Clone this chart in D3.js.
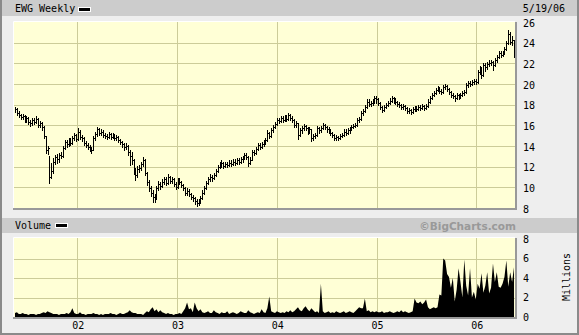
<!DOCTYPE html>
<html><head><meta charset="utf-8">
<script src="https://cdn.jsdelivr.net/npm/d3@7"></script>
<style>body{margin:0;background:#eeeeee}svg{display:block}</style>
</head><body>
<svg id="c" width="579" height="335"></svg>
<script>
const symbolTitle = "EWG Weekly";
const lastDateLabel = "5/19/06";
const startDate = "2001-05-18";
const closes = [17.6,17.2,17.0,16.8,16.9,16.5,16.7,16.3,16.2,16.5,
16.3,16.6,16.0,16.2,15.8,15.0,13.6,13.8,11.0,11.6,
12.5,12.9,12.7,13.1,13.0,13.8,14.4,14.2,14.6,14.3,
14.8,15.1,14.7,15.4,14.9,14.8,14.3,14.1,13.9,13.7,
13.6,14.8,15.2,15.6,15.3,15.4,15.1,15.0,14.9,15.2,
14.9,15.1,14.8,14.9,14.6,14.4,14.2,13.9,14.0,13.4,
13.0,12.6,11.6,11.2,11.8,11.9,12.3,12.6,11.4,10.5,
9.9,9.5,9.1,8.9,9.9,10.3,10.1,10.5,10.8,10.4,
11.0,10.6,10.8,10.3,10.0,10.7,10.5,10.2,9.9,9.5,
9.6,9.4,9.1,9.0,8.7,8.5,8.6,9.0,9.5,9.9,
10.4,10.8,11.0,10.9,11.2,11.6,12.0,12.2,12.4,12.1,
12.3,12.2,12.4,12.3,12.5,12.4,12.6,12.5,12.7,12.8,
13.1,12.9,12.4,12.6,13.4,13.3,13.7,14.1,13.9,14.2,
14.4,14.6,15.3,15.0,15.5,15.8,16.1,16.5,16.4,16.7,
16.5,16.8,16.6,17.0,16.7,16.5,16.0,16.2,15.1,15.5,
15.7,15.9,15.7,15.5,15.6,14.8,15.0,15.1,15.7,15.5,
15.7,16.0,15.8,15.6,15.5,15.3,15.1,14.8,14.9,14.8,
15.0,15.1,15.4,15.3,15.5,15.6,15.8,15.9,16.0,16.5,
16.6,17.2,17.4,17.8,18.3,18.1,18.2,18.3,18.6,18.5,
18.2,17.8,17.5,17.8,18.0,18.2,18.4,18.6,18.4,18.3,
18.1,18.0,17.8,17.9,17.7,17.4,17.5,17.3,17.6,17.7,
17.6,17.8,17.7,17.9,17.7,17.9,18.3,18.6,18.9,19.1,
19.4,19.6,19.3,19.2,19.7,19.8,19.5,19.2,18.9,18.8,
18.6,18.9,18.7,18.9,19.1,19.2,19.9,20.1,20.0,20.2,
20.3,20.2,21.2,21.5,20.9,21.8,21.6,21.9,22.0,22.1,
21.8,22.3,22.6,23.0,22.8,23.0,23.4,24.0,24.8,24.1,
24.3,22.9];
const highs = [17.8,17.7,17.4,17.1,17.1,17.0,16.9,16.8,16.5,16.7,
16.7,16.9,16.7,16.4,16.3,15.9,15.0,14.0,13.0,12.4,
12.8,13.1,13.2,13.3,13.4,14.0,14.6,14.6,14.8,14.8,
15.0,15.3,15.2,15.7,15.5,15.1,14.9,14.5,14.3,14.1,
13.9,15.0,15.4,15.8,15.7,15.6,15.5,15.3,15.2,15.4,
15.3,15.3,15.2,15.1,15.0,14.7,14.5,14.3,14.3,14.1,
13.6,13.4,12.7,11.9,12.1,12.2,12.5,12.9,12.7,11.5,
10.7,10.1,9.7,9.4,10.1,10.6,10.5,10.8,11.0,11.0,
11.3,11.1,11.0,10.9,10.5,10.9,10.9,10.6,10.3,10.0,
9.9,9.8,9.5,9.3,9.1,8.9,8.9,9.2,9.7,10.1,
10.6,11.0,11.3,11.2,11.4,11.8,12.2,12.5,12.6,12.5,
12.5,12.5,12.6,12.6,12.7,12.7,12.8,12.8,12.9,13.0,
13.3,13.3,13.0,12.9,13.6,13.6,13.9,14.3,14.3,14.4,
14.6,14.8,15.5,15.4,15.7,16.0,16.3,16.7,16.7,16.9,
16.9,17.0,17.0,17.2,17.1,16.9,16.6,16.4,16.2,15.7,
15.9,16.1,16.0,15.8,15.8,15.6,15.2,15.3,15.9,15.8,
15.9,16.2,16.1,15.9,15.8,15.6,15.4,15.2,15.1,15.0,
15.2,15.3,15.6,15.6,15.7,15.8,16.0,16.1,16.2,16.7,
16.8,17.4,17.6,18.0,18.5,18.5,18.4,18.5,18.8,18.8,
18.6,18.3,17.9,18.0,18.2,18.4,18.6,18.8,18.7,18.6,
18.4,18.3,18.1,18.1,18.0,17.8,17.7,17.6,17.8,17.9,
17.9,18.0,18.0,18.1,18.0,18.1,18.5,18.8,19.1,19.3,
19.6,19.8,19.7,19.5,19.9,20.0,19.9,19.6,19.3,19.1,
18.9,19.1,19.0,19.1,19.3,19.4,20.1,20.3,20.3,20.4,
20.5,20.5,21.4,21.7,21.6,22.0,22.0,22.1,22.3,22.3,
22.2,22.5,22.8,23.2,23.2,23.2,23.6,24.2,25.2,25.0,
24.6,24.2];
const lows = [17.3,17.0,16.8,16.6,16.6,16.3,16.3,16.1,15.9,16.0,
16.1,16.2,15.8,15.8,15.5,14.8,13.3,13.2,10.4,10.9,
11.4,12.3,12.4,12.5,12.8,12.9,13.7,13.9,14.0,14.1,
14.2,14.6,14.5,14.6,14.7,14.5,14.1,13.9,13.7,13.5,
13.3,13.6,14.6,15.0,15.1,15.1,14.9,14.8,14.7,14.8,
14.7,14.8,14.6,14.6,14.4,14.2,13.9,13.6,13.7,13.1,
12.2,12.3,11.3,10.7,11.0,11.5,11.7,12.1,11.2,10.2,
9.6,9.2,8.6,8.6,8.9,9.7,9.8,10.0,10.3,10.2,
10.3,10.4,10.4,10.1,9.8,9.9,10.3,10.0,9.7,9.3,
9.3,9.2,8.9,8.7,8.4,8.2,8.3,8.5,8.9,9.4,
9.8,10.3,10.6,10.6,10.8,11.1,11.5,11.9,12.0,11.9,
12.0,12.0,12.1,12.1,12.2,12.2,12.3,12.3,12.4,12.5,
12.7,12.7,12.1,12.3,12.6,13.1,13.2,13.6,13.7,13.8,
14.0,14.2,14.5,14.8,14.9,15.4,15.7,16.0,16.2,16.3,
16.3,16.4,16.4,16.5,16.5,16.3,15.8,15.8,14.7,15.0,
15.3,15.5,15.5,15.2,15.3,14.5,14.6,14.8,15.0,15.3,
15.4,15.6,15.6,15.4,15.3,15.1,14.9,14.6,14.6,14.6,
14.7,14.9,15.0,15.1,15.2,15.3,15.5,15.7,15.8,15.9,
16.3,16.5,17.0,17.3,17.7,17.9,17.9,18.0,18.2,18.2,
18.0,17.6,17.3,17.4,17.7,17.9,18.1,18.3,18.2,18.1,
17.9,17.8,17.6,17.6,17.5,17.2,17.2,17.1,17.2,17.4,
17.4,17.5,17.5,17.6,17.5,17.6,17.8,18.2,18.5,18.8,
19.0,19.3,19.1,19.0,19.1,19.5,19.3,19.0,18.7,18.6,
18.4,18.5,18.5,18.6,18.8,18.9,19.1,19.7,19.8,19.9,
20.0,20.0,20.1,21.0,20.6,20.8,21.3,21.5,21.7,21.8,
21.4,21.7,22.1,22.5,22.6,22.7,22.9,23.3,23.9,23.9,
23.8,22.6];
const volumes = [0.4,0.5,0.3,0.3,0.4,0.3,0.3,0.2,0.3,0.3,
0.3,0.2,0.3,0.3,0.4,0.5,0.4,0.6,0.5,0.4,
0.3,0.3,0.3,0.2,0.3,0.3,0.3,0.4,0.3,0.5,
0.9,0.4,0.3,0.3,0.5,0.3,0.3,0.2,0.3,0.3,
0.3,0.4,0.3,0.3,0.2,0.3,0.2,0.3,0.3,0.3,
0.4,0.3,0.3,0.2,0.3,0.4,0.3,0.3,0.4,0.5,
0.7,0.5,0.4,0.4,0.3,0.3,0.3,0.2,0.4,0.6,
0.5,0.8,1.0,0.6,0.8,0.5,0.7,0.5,0.4,0.3,
0.4,0.3,0.3,0.2,0.3,0.3,0.4,0.3,0.6,0.9,
1.5,0.8,0.9,0.5,1.5,0.9,0.6,0.8,0.5,0.4,
0.5,0.6,0.4,0.4,0.7,0.5,0.4,0.3,0.5,0.4,
0.4,0.6,0.3,0.4,0.5,0.4,0.3,0.4,0.6,0.5,
0.4,0.4,0.7,0.5,0.4,0.3,0.4,0.5,0.4,0.8,
0.5,0.4,0.9,2.1,0.6,0.5,0.4,0.6,0.5,0.4,
0.5,0.4,0.6,0.5,0.7,0.5,0.6,0.8,1.0,0.7,
0.6,0.9,1.1,0.8,0.6,0.9,0.7,0.5,0.6,0.4,
3.4,0.6,0.4,0.5,0.6,0.4,0.5,0.4,0.6,0.5,
0.4,0.5,0.6,0.4,0.5,0.6,0.5,0.4,0.6,0.8,
1.0,0.9,0.9,1.9,0.6,0.7,0.5,0.6,0.5,0.6,
0.5,0.5,0.6,0.4,0.5,0.5,0.6,0.5,0.4,0.5,
0.6,0.5,0.7,0.5,0.6,0.5,0.4,0.5,0.6,1.9,
1.5,1.4,1.6,1.3,1.5,1.8,1.0,0.8,0.9,1.0,
0.9,1.0,2.3,2.2,6.0,5.8,4.4,4.1,3.0,4.0,
1.6,2.8,5.0,3.6,2.0,5.9,3.2,2.2,5.0,2.0,
2.6,1.8,3.4,2.9,4.5,2.5,3.2,4.6,2.4,3.0,
5.5,3.6,4.6,3.1,3.0,3.4,4.1,5.8,3.1,4.6,
3.6,5.1];
const priceTicks = [8,10,12,14,16,18,20,22,24,26];
const volumeTicks = [0,2,4,6,8];
const yearTicks = ["2002-01-01","2003-01-01","2004-01-01","2005-01-01","2006-01-01"];
const yearLabels = ["02","03","04","05","06"];

const svg = d3.select("#c");
const W = 579, H = 335;
const mono = "'DejaVu Sans Mono', monospace";
const P = {l:14, r:515, t:22, b:208};
const V = {t:239, b:317};

const parse = d3.timeParse("%Y-%m-%d");
const d0 = parse(startDate);
const dates = closes.map((_, i) => d3.timeDay.offset(d0, 7*i));
const x = d3.scaleTime().domain([d0, dates[dates.length-1]]).range([P.l+1, P.r-1]);
const y = d3.scaleLinear().domain([8,26]).range([P.b, P.t]);
const yv = d3.scaleLinear().domain([0,8]).range([V.b, V.t]);
const years = yearTicks.map(parse);

// header bars
svg.append("rect").attr("x",0).attr("y",0).attr("width",W).attr("height",16).attr("fill","#cccccc");
svg.append("rect").attr("x",0).attr("y",218).attr("width",W).attr("height",15).attr("fill","#cccccc");

svg.append("text").attr("x",15).attr("y",12).attr("font-family",mono).attr("font-size",10).text(symbolTitle);
svg.append("rect").attr("x",78.5).attr("y",7.5).attr("width",12).attr("height",4).attr("fill","#000").attr("stroke","#fff");
svg.append("text").attr("x",565).attr("y",12).attr("text-anchor","end").attr("font-family",mono).attr("font-size",10).text(lastDateLabel);
svg.append("text").attr("x",15).attr("y",229).attr("font-family",mono).attr("font-size",10).text("Volume");
svg.append("rect").attr("x",55.5).attr("y",223.5).attr("width",12).attr("height",4).attr("fill","#000").attr("stroke","#fff");
svg.append("text").attr("x",516).attr("y",230).attr("text-anchor","end").attr("font-family","'DejaVu Sans', sans-serif").attr("font-weight","bold").attr("font-size",10.5).attr("fill","#999").text("\u00A9BigCharts.com");

function panel(top, bottom, yScale, gridVals) {
  const g = svg.append("g");
  g.append("rect").attr("x",P.l).attr("y",top).attr("width",P.r-P.l).attr("height",bottom-top).attr("fill","#ffffd6");
  g.selectAll("line.h").data(gridVals).enter().append("line")
    .attr("x1",P.l).attr("x2",P.r).attr("y1",d=>Math.round(yScale(d))+0.5).attr("y2",d=>Math.round(yScale(d))+0.5)
    .attr("stroke","#cccc99");
  g.selectAll("line.v").data(years).enter().append("line")
    .attr("y1",top).attr("y2",bottom).attr("x1",d=>Math.round(x(d))+0.5).attr("x2",d=>Math.round(x(d))+0.5)
    .attr("stroke","#cccc99");
  return g;
}
function frame(top, bottom) {
  svg.append("path").attr("d",`M${P.l-0.5},${bottom}V${top-0.5}H${P.r}`).attr("fill","none").attr("stroke","#fff");
  svg.append("path").attr("d",`M${P.l-1},${bottom+1}H${P.r+1}V${top}`).attr("fill","none").attr("stroke","#999").attr("stroke-width",2);
}

panel(P.t, P.b, y, priceTicks.filter(v=>v>8 && v<26));
panel(V.t-1, V.b, yv, volumeTicks.filter(v=>v>0 && v<8));

// price bars
const px = i => Math.round(x(dates[i])) + 0.5;
let d = "";
closes.forEach((c, i) => {
  const xi = px(i);
  const yh = Math.round(y(highs[i])), yl = Math.round(y(lows[i]));
  d += `M${xi},${yh}V${yl+1}`;
  const yc = Math.round(y(c)) + 0.5;
  d += `M${xi},${yc}H${xi+1.5}`;
  if (i > 0) { const yo = Math.round(y(closes[i-1])) + 0.5; d += `M${xi-1.5},${yo}H${xi}`; }
});
svg.append("path").attr("d",d).attr("stroke","#000").attr("stroke-width",1).attr("fill","none").attr("shape-rendering","crispEdges");

// volume area
const area = d3.area().x((v,i)=>x(dates[i])).y0(yv(0)).y1(v=>yv(v));
svg.append("path").datum(volumes).attr("d",area).attr("fill","#000");

frame(P.t, P.b);
frame(V.t-1, V.b);

// axis labels
const yAxis = d3.axisRight(y).tickValues(priceTicks).tickSize(0).tickPadding(0).tickFormat(d3.format("d"));
const ga = svg.append("g").attr("transform",`translate(${P.r+8},1)`).call(yAxis);
const yvAxis = d3.axisRight(yv).tickValues(volumeTicks).tickSize(0).tickPadding(0).tickFormat(d3.format("d"));
const gv = svg.append("g").attr("transform",`translate(${P.r+8},0)`).call(yvAxis);
const xAxis = d3.axisBottom(x).tickValues(years).tickSize(0).tickPadding(0).tickFormat((d,i)=>yearLabels[i]);
const gx = svg.append("g").attr("transform",`translate(0.5,${V.b+5})`).call(xAxis);
[ga,gv,gx].forEach(g=>{ g.select(".domain").remove(); g.selectAll("text").attr("font-family",mono).attr("font-size",10).attr("fill","#000"); });

svg.append("text").attr("transform","translate(570,277) rotate(-90)").attr("text-anchor","middle")
  .attr("font-family",mono).attr("font-size",10).text("Millions");

// outer border
svg.append("path").attr("d",`M1,0V${H-1}H${W-1}V0`).attr("fill","none").attr("stroke","#8a8a8a").attr("stroke-width",2);
</script>
</body></html>
